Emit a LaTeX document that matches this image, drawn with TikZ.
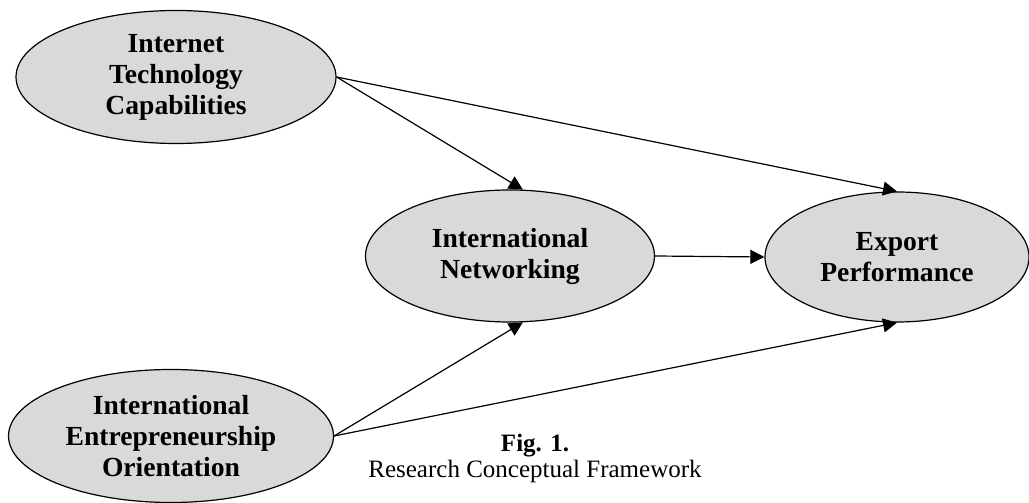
\documentclass[tikz,border=0pt]{standalone}
\usepackage{fontspec}
\setmainfont{Liberation Serif}
\usetikzlibrary{arrows.meta,positioning,shapes.geometric}
\definecolor{shade}{RGB}{217,217,217}
\tikzset{
  >={Triangle[length=7pt,width=7pt]},
  construct/.style={ellipse,draw=black,fill=shade,line width=0.6pt,inner sep=0pt,
    minimum width=#1,align=center,font=\fontsize{13.8}{15.5}\selectfont\bfseries},
  construct/.default=160pt,
  link/.style={->,line width=0.6pt,draw=black},
  caption/.style={anchor=base,font=\fontsize{12.5}{14}\selectfont}
}
\begin{document}
\begin{tikzpicture}[x=0.5pt,y=0.5pt]
  \useasboundingbox (0,0) rectangle (1029,503);
  % constructs
  \node[construct=160pt,minimum height=66.5pt] (itc) at (176,426) {Internet\\Technology\\Capabilities};
  \node[construct=162.5pt,minimum height=66.5pt] (ieo) at (171,67) {International\\Entrepreneurship\\Orientation};
  \node[construct=144.5pt,minimum height=66pt] (net) at (510,247) {International\\Networking};
  \node[construct=132pt,minimum height=65pt] (exp) at (897,246) {Export\\Performance};
  % paths
  \draw[link] (itc.east) -- (net.79);
  \draw[link] (itc.east) -- (exp.north);
  \draw[link] (net.east) -- (exp.west);
  \draw[link] (ieo.east) -- (net.-79);
  \draw[link] (ieo.east) -- (exp.south);
  % caption
  \node[caption,font=\fontsize{12.5}{14}\selectfont\bfseries] (fig) at (535,51) {Fig. 1.};
  \node[caption] (title) at (535,25) {Research Conceptual Framework};
\end{tikzpicture}
\end{document}
